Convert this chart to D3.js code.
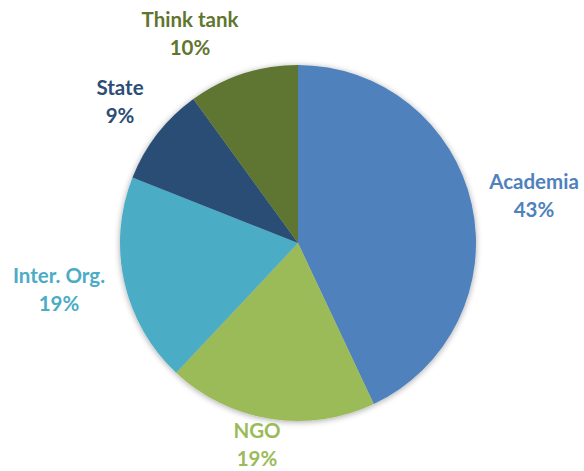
<!DOCTYPE html>
<html><head><meta charset="utf-8">
<script src="https://cdn.jsdelivr.net/npm/d3@7"></script>
<style>body{margin:0;background:#fff}svg{display:block}</style>
</head><body>
<svg id="c" width="584" height="471"></svg>
<script>
const categories = ["Academia", "NGO", "Inter. Org.", "State", "Think tank"];
const values = [43, 19, 19, 9, 10];
const colors = ["#4F81BD", "#9BBB59", "#4BACC6", "#2C4D75", "#5F7530"];
const labelColors = ["#4F81BD", "#9BBB59", "#4BACC6", "#2C4D75", "#5F7530"];
// label anchor positions (center x, baseline of first line)
const labelPos = [[534, 189], [257, 438], [59, 283], [120, 95], [190, 27]];

const svg = d3.select("#c");
const cx = 298, cy = 243, r = 178;
const defs = svg.append("defs");
const f = defs.append("filter").attr("id","sh").attr("x","-20%").attr("y","-20%").attr("width","140%").attr("height","140%");
f.append("feGaussianBlur").attr("in","SourceAlpha").attr("stdDeviation",3).attr("result","b");
f.append("feOffset").attr("in","b").attr("dx",0).attr("dy",1).attr("result","o");
f.append("feComponentTransfer").attr("in","o").attr("result","o2").append("feFuncA").attr("type","linear").attr("slope",0.35);
const m = f.append("feMerge"); m.append("feMergeNode").attr("in","o2"); m.append("feMergeNode").attr("in","SourceGraphic");

const pie = d3.pie().sort(null).value(d => d);
const arc = d3.arc().innerRadius(0).outerRadius(r);
const total = d3.sum(values);
const g = svg.append("g").attr("transform", `translate(${cx},${cy})`).attr("filter","url(#sh)");
g.selectAll("path").data(pie(values)).join("path")
  .attr("d", arc).attr("fill", (d,i) => colors[i]);

const lg = svg.append("g").attr("font-family","Lato, 'Open Sans', sans-serif").attr("font-weight",700).attr("font-size",20.5).attr("text-anchor","middle");
categories.forEach((c,i) => {
  const t = lg.append("text").attr("fill", labelColors[i]);
  t.append("tspan").attr("x", labelPos[i][0]).attr("y", labelPos[i][1]).text(c);
  t.append("tspan").attr("x", labelPos[i][0]).attr("y", labelPos[i][1] + 28).text(Math.round(values[i]/total*100) + "%");
});
</script>
</body></html>
